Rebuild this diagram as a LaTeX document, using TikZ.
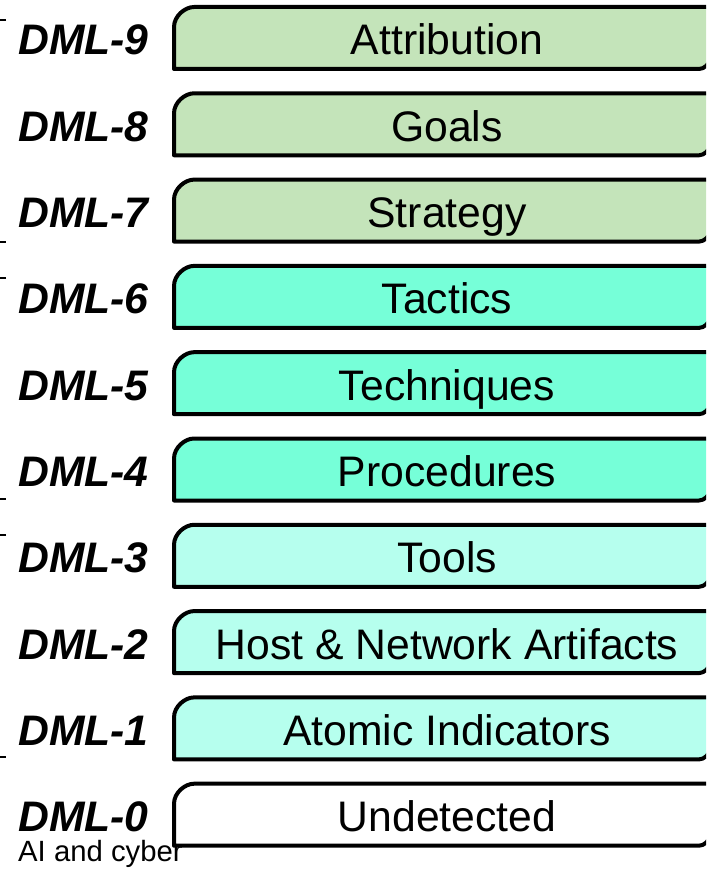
\documentclass[tikz,border=0pt]{standalone}
\usepackage{fontspec}
\setmainfont{Liberation Sans}
\usepackage{xcolor}

\definecolor{dmlgreen}{HTML}{C4E4BA}
\definecolor{dmlaqua}{HTML}{76FFD8}
\definecolor{dmlcyan}{HTML}{B6FFEE}

\tikzset{
  levelbox/.style={draw=black, line width=4pt, line join=round},
  leveltext/.style={font=\fontsize{42.7}{48}\selectfont, anchor=base, inner sep=0pt},
  levellabel/.style={font=\fontsize{42.7}{48}\selectfont\bfseries\itshape, anchor=base west, inner sep=0pt},
  groupbracket/.style={black, line width=2.5pt}
}

\begin{document}
\begin{tikzpicture}[x=1pt,y=-1pt]

\useasboundingbox (0,0) rectangle (706,869);
\clip (0,0) rectangle (706,869);

% Group brackets at the left edge
\foreach \ya/\yb in {20/242, 278/499, 535/757}{
  \draw[groupbracket] (6,\ya) -- (-6,\ya) -- (-6,\yb) -- (6,\yb);
}

% Level boxes and labels
\foreach \lvl/\txt/\col in {9/Attribution/dmlgreen, 8/Goals/dmlgreen, 7/Strategy/dmlgreen,
    6/Tactics/dmlaqua, 5/Techniques/dmlaqua, 4/Procedures/dmlaqua,
    3/Tools/dmlcyan, 2/Host \& Network Artifacts/dmlcyan, 1/Atomic Indicators/dmlcyan,
    0/Undetected/white}{
  \pgfmathsetmacro{\ytop}{7+(9-\lvl)*86.3}
  \pgfmathsetmacro{\ybot}{\ytop+62}
  \draw[levelbox, fill=\col] (174,\ybot) -- (174,\ytop+20)
    .. controls (174,\ytop+9) and (185,\ytop) .. (194,\ytop)
    -- (710,\ytop) -- (710,\ybot-11)
    .. controls (710,\ybot-5) and (704,\ybot) .. (699,\ybot) -- cycle;
  \node[leveltext] (box\lvl) at (447,\ytop+48) {\txt};
  \node[levellabel] (dml\lvl) at (18,\ytop+48) {DML-\lvl};
}

% Caption
\node[font=\fontsize{29.3}{34}\selectfont, anchor=base west, inner sep=0pt] (caption) at (18,861) {AI and cyber};

\end{tikzpicture}
\end{document}
